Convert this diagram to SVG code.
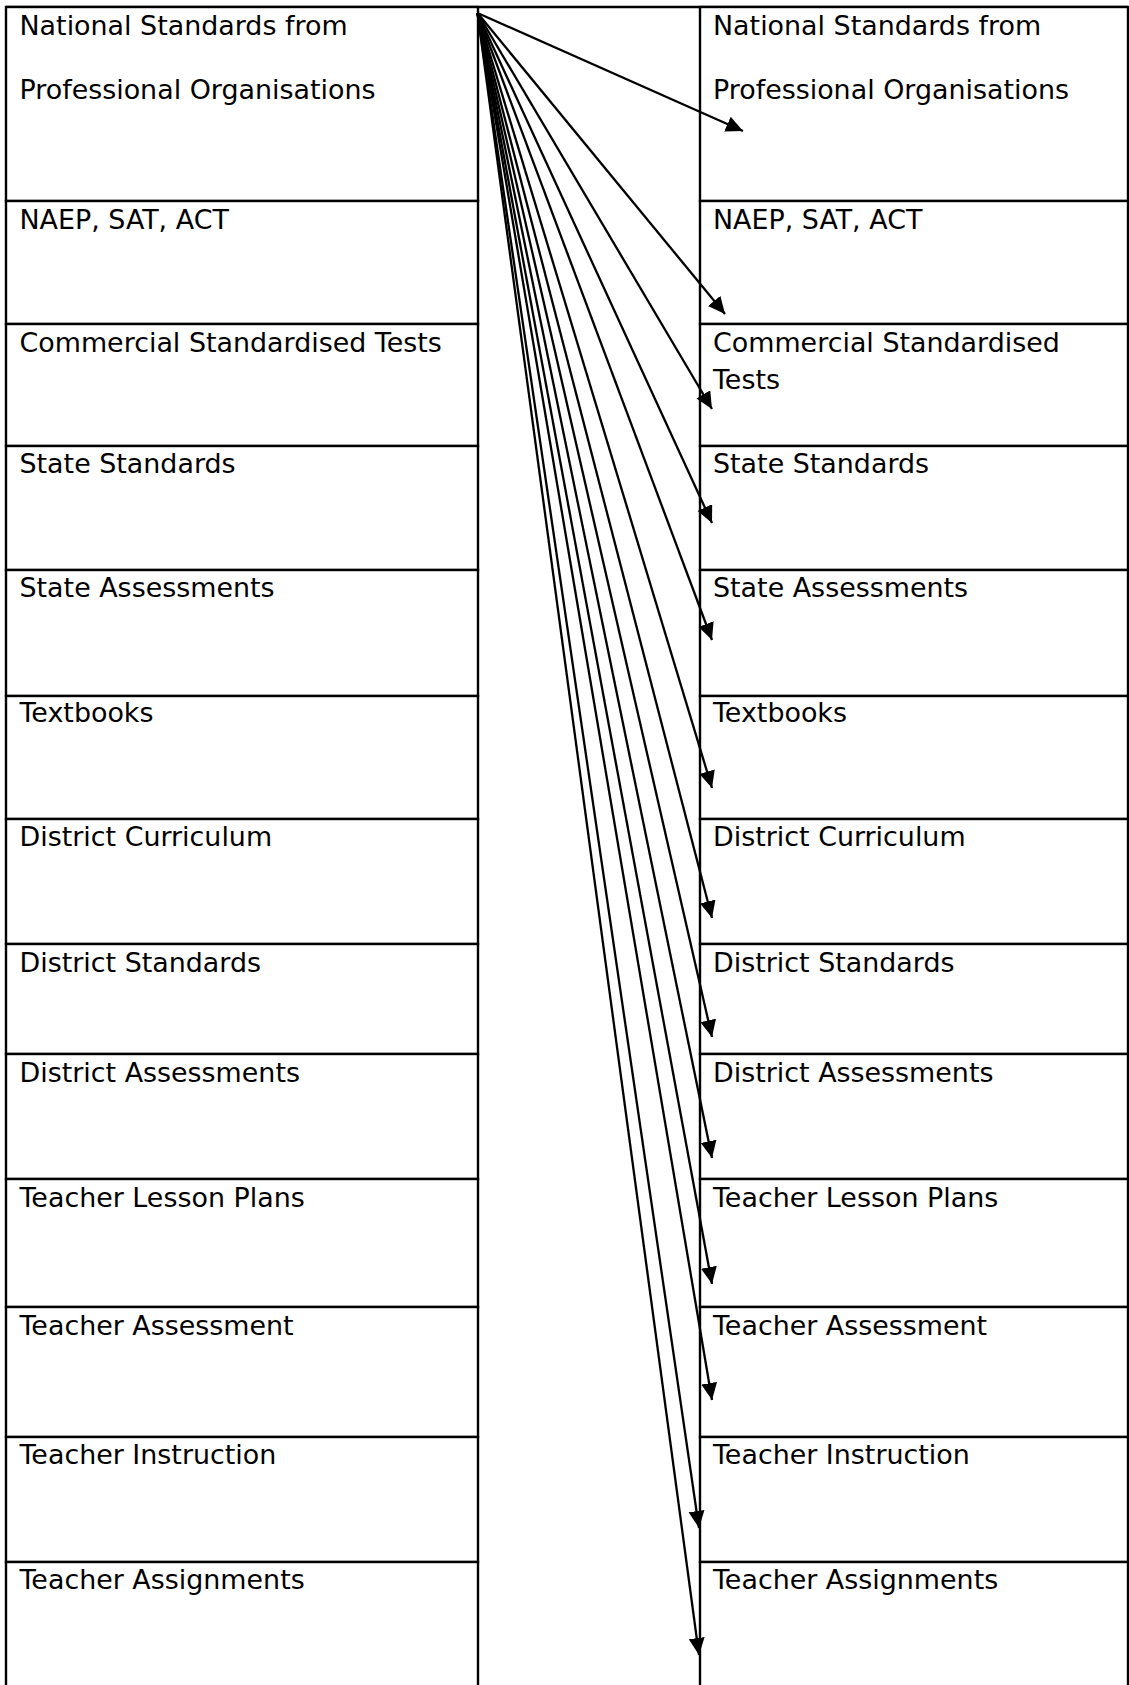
<svg xmlns="http://www.w3.org/2000/svg" width="1129" height="1685" viewBox="0 0 1129 1685">
<style>
.cell{fill:#fff;stroke:#000;stroke-width:2.4}
.t{font-family:"DejaVu Sans","Liberation Sans",sans-serif;font-size:26.9px;fill:#000}
.c{stroke:#000;stroke-width:2.3;fill:none;marker-end:url(#ah)}
</style>
<defs>
<marker id="ah" markerUnits="userSpaceOnUse" markerWidth="20" markerHeight="18" refX="17" refY="8" orient="auto">
<path d="M0,0 L17,8 L0,16 z" fill="#000"/>
</marker>
</defs>
<rect x="0" y="0" width="1129" height="1685" fill="#fff"/>
<line x1="6" y1="7" x2="1128" y2="7" stroke="#000" stroke-width="2.4"/>
<g id="L1"><rect class="cell" x="6" y="7" width="472" height="194"/><text class="t" x="19.5" y="35">National Standards from</text><text class="t" x="19.5" y="99">Professional Organisations</text></g>
<g id="L2"><rect class="cell" x="6" y="201" width="472" height="123"/><text class="t" x="19.5" y="229">NAEP, SAT, ACT</text></g>
<g id="L3"><rect class="cell" x="6" y="324" width="472" height="122"/><text class="t" x="19.5" y="352">Commercial Standardised Tests</text></g>
<g id="L4"><rect class="cell" x="6" y="446" width="472" height="124"/><text class="t" x="19.5" y="473">State Standards</text></g>
<g id="L5"><rect class="cell" x="6" y="570" width="472" height="126"/><text class="t" x="19.5" y="597">State Assessments</text></g>
<g id="L6"><rect class="cell" x="6" y="696" width="472" height="123"/><text class="t" x="19.5" y="722">Textbooks</text></g>
<g id="L7"><rect class="cell" x="6" y="819" width="472" height="125"/><text class="t" x="19.5" y="846">District Curriculum</text></g>
<g id="L8"><rect class="cell" x="6" y="944" width="472" height="110"/><text class="t" x="19.5" y="972">District Standards</text></g>
<g id="L9"><rect class="cell" x="6" y="1054" width="472" height="125"/><text class="t" x="19.5" y="1082">District Assessments</text></g>
<g id="L10"><rect class="cell" x="6" y="1179" width="472" height="128"/><text class="t" x="19.5" y="1207">Teacher Lesson Plans</text></g>
<g id="L11"><rect class="cell" x="6" y="1307" width="472" height="130"/><text class="t" x="19.5" y="1335">Teacher Assessment</text></g>
<g id="L12"><rect class="cell" x="6" y="1437" width="472" height="125"/><text class="t" x="19.5" y="1464">Teacher Instruction</text></g>
<g id="L13"><rect class="cell" x="6" y="1562" width="472" height="140"/><text class="t" x="19.5" y="1589">Teacher Assignments</text></g>
<g id="R1"><rect class="cell" x="700" y="7" width="428" height="194"/><text class="t" x="713" y="35">National Standards from</text><text class="t" x="713" y="99">Professional Organisations</text></g>
<g id="R2"><rect class="cell" x="700" y="201" width="428" height="123"/><text class="t" x="713" y="229">NAEP, SAT, ACT</text></g>
<g id="R3"><rect class="cell" x="700" y="324" width="428" height="122"/><text class="t" x="713" y="352">Commercial Standardised</text><text class="t" x="713" y="388.5">Tests</text></g>
<g id="R4"><rect class="cell" x="700" y="446" width="428" height="124"/><text class="t" x="713" y="473">State Standards</text></g>
<g id="R5"><rect class="cell" x="700" y="570" width="428" height="126"/><text class="t" x="713" y="597">State Assessments</text></g>
<g id="R6"><rect class="cell" x="700" y="696" width="428" height="123"/><text class="t" x="713" y="722">Textbooks</text></g>
<g id="R7"><rect class="cell" x="700" y="819" width="428" height="125"/><text class="t" x="713" y="846">District Curriculum</text></g>
<g id="R8"><rect class="cell" x="700" y="944" width="428" height="110"/><text class="t" x="713" y="972">District Standards</text></g>
<g id="R9"><rect class="cell" x="700" y="1054" width="428" height="125"/><text class="t" x="713" y="1082">District Assessments</text></g>
<g id="R10"><rect class="cell" x="700" y="1179" width="428" height="128"/><text class="t" x="713" y="1207">Teacher Lesson Plans</text></g>
<g id="R11"><rect class="cell" x="700" y="1307" width="428" height="130"/><text class="t" x="713" y="1335">Teacher Assessment</text></g>
<g id="R12"><rect class="cell" x="700" y="1437" width="428" height="125"/><text class="t" x="713" y="1464">Teacher Instruction</text></g>
<g id="R13"><rect class="cell" x="700" y="1562" width="428" height="140"/><text class="t" x="713" y="1589">Teacher Assignments</text></g>
<g id="connectors">
<line class="c" x1="477.5" y1="13" x2="743" y2="131"/>
<line class="c" x1="477.5" y1="13" x2="725" y2="314"/>
<line class="c" x1="477.5" y1="13" x2="712" y2="409"/>
<line class="c" x1="477.5" y1="13" x2="712" y2="523"/>
<line class="c" x1="477.5" y1="13" x2="712" y2="640"/>
<line class="c" x1="477.5" y1="13" x2="712" y2="788"/>
<line class="c" x1="477.5" y1="13" x2="712" y2="918"/>
<line class="c" x1="477.5" y1="13" x2="712" y2="1037"/>
<line class="c" x1="477.5" y1="13" x2="712" y2="1158"/>
<line class="c" x1="477.5" y1="13" x2="712" y2="1284"/>
<line class="c" x1="477.5" y1="13" x2="712" y2="1400"/>
<line class="c" x1="477.5" y1="13" x2="699" y2="1528"/>
<line class="c" x1="477.5" y1="13" x2="699" y2="1655"/>
</g>
</svg>
